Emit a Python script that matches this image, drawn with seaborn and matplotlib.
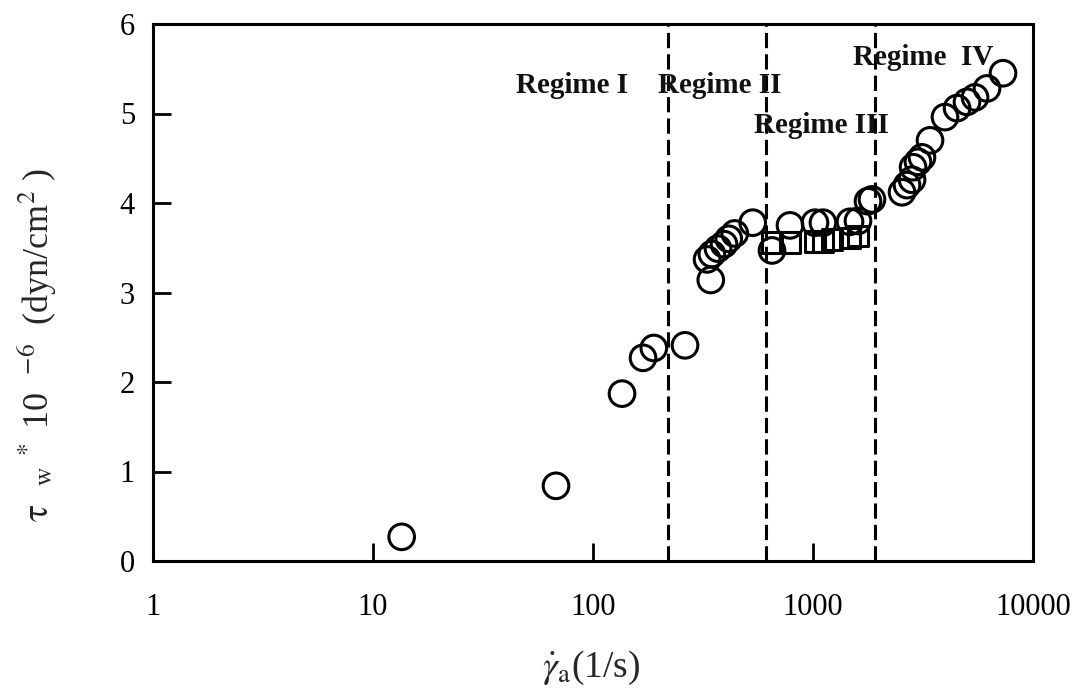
import numpy as np
import pandas as pd
import matplotlib
matplotlib.use("Agg")
import matplotlib.pyplot as plt
import seaborn as sns

# ---- data ----
regime1_x = [13.5, 67.9, 135.5, 168.8, 189, 262]
regime1_y = [0.27, 0.84, 1.87, 2.27, 2.38, 2.41]
regime2_x = [343, 330, 347, 370, 394, 414, 441, 532]
regime2_y = [3.14, 3.37, 3.43, 3.49, 3.54, 3.60, 3.66, 3.78]
regime3_circle_x = [651, 786, 1021, 1110, 1473, 1601, 1778, 1854]
regime3_circle_y = [3.47, 3.75, 3.78, 3.78, 3.79, 3.80, 4.02, 4.04]
regime3_square_x = [651, 786, 1021, 1110, 1220, 1473, 1601]
regime3_square_y = [3.56, 3.56, 3.57, 3.57, 3.59, 3.61, 3.63]
regime4_x = [2539, 2675, 2820, 2850, 3000, 3128, 3403, 3981, 4517, 5012, 5451, 6180, 7305]
regime4_y = [4.12, 4.20, 4.26, 4.40, 4.46, 4.51, 4.70, 4.96, 5.06, 5.13, 5.18, 5.28, 5.45]

boundaries = [219, 611, 1914]
regime_labels = ["Regime I", "Regime II", "Regime III", "Regime  IV"]
label_x = [44.7, 197, 539, 1520]
label_y = [5.31, 5.31, 4.87, 5.63]

x_ticks = [1, 10, 100, 1000, 10000]
x_tick_labels = ["1", "10", "100", "1000", "10000"]
y_ticks = [0, 1, 2, 3, 4, 5, 6]

circles = pd.DataFrame({
    "x": regime1_x + regime2_x + regime3_circle_x + regime4_x,
    "y": regime1_y + regime2_y + regime3_circle_y + regime4_y,
})
squares = pd.DataFrame({"x": regime3_square_x, "y": regime3_square_y})

sns.set_style("white")
plt.rcParams["font.family"] = ["Liberation Serif", "DejaVu Serif"]
plt.rcParams["mathtext.fontset"] = "stix"

fig = plt.figure(figsize=(10.8, 6.94), dpi=100)
ax = fig.add_axes([153 / 1080, 1 - 561 / 694, 880 / 1080, 537 / 694])

sns.scatterplot(data=squares, x="x", y="y", marker="s", s=220, ax=ax,
                facecolor="none", edgecolor="black", linewidth=2.2, zorder=3)
sns.scatterplot(data=circles, x="x", y="y", marker="o", s=340, ax=ax,
                facecolor="none", edgecolor="black", linewidth=2.2, zorder=4)
for coll in ax.collections:
    coll.set_facecolor("none")
    coll.set_edgecolor("black")

for b in boundaries:
    ax.axvline(b, color="black", lw=2.2, ls=(0, (5, 2)), zorder=2)

for t, lx, ly in zip(regime_labels, label_x, label_y):
    ax.text(lx, ly, t, fontsize=21, fontweight="bold", ha="left", va="center",
            color="#111111")

ax.set_xscale("log")
ax.set_xlim(1, 10000)
ax.set_ylim(0, 6)
ax.set_xticks(x_ticks)
ax.set_xticklabels(x_tick_labels)
ax.xaxis.set_minor_locator(matplotlib.ticker.NullLocator())
ax.set_yticks(y_ticks)
ax.tick_params(axis="both", which="major", direction="in", length=13, width=2,
               labelsize=22, colors="black", bottom=True, left=True)
ax.tick_params(axis="x", pad=23)
ax.tick_params(axis="y", pad=13)
for sp in ax.spines.values():
    sp.set_linewidth(2.2)
    sp.set_color("black")
    sp.set_visible(True)

ax.set_xlabel(r"$\dot{\gamma}_{\mathrm{a}}$(1/s)", fontsize=27)
ax.xaxis.set_label_coords((591 - 153) / 880, -(649 - 561) / 537)
ax.set_ylabel(r"$\mathrm{\tau}_{\quad\mathrm{w}}$$^{\ *}$ 10  $^{-6}$  (dyn/cm$^{2}$ )",
              fontsize=26)
ax.yaxis.set_label_coords((58 - 153) / 880, 1 - (345 - 24) / 537)

fig.savefig("out.png", dpi=100, facecolor="white")
